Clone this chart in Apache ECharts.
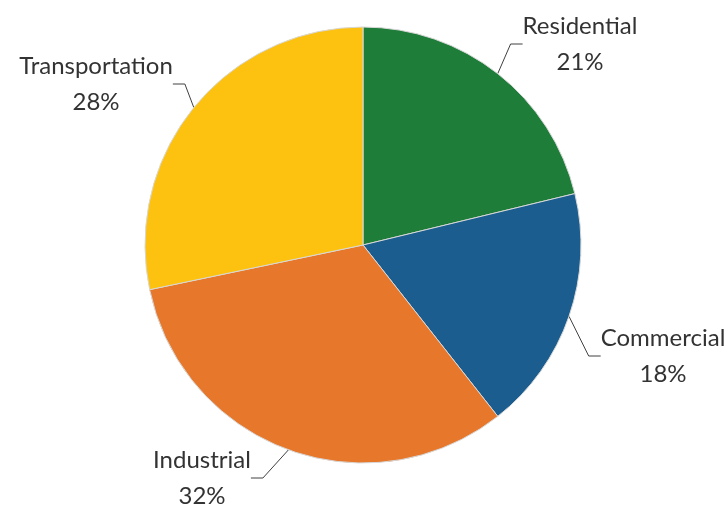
<!DOCTYPE html>
<html>
<head>
<meta charset="utf-8">
<script src="https://cdn.jsdelivr.net/npm/echarts@6/dist/echarts.min.js"></script>
<style>
	html, body { margin: 0; padding: 0; background: #ffffff; }
	#main { width: 728px; height: 505px; }
</style>
</head>
<body>
<div id="main"></div>
<script>
	// sectors, clockwise from 12 o'clock
	var sectors = ['Residential', 'Commercial', 'Industrial', 'Transportation'];
	var shares = [21, 18, 32, 28];
	var colours = ['#1f7d3a', '#1b5d8e', '#e6772b', '#fdc20f'];
	// where each label block sits (centre of the two text lines)
	var labelSpots = [[580, 44], [663, 356], [202, 478], [96, 84]];

	var myChart = echarts.init(document.getElementById('main'));

	var option = {
		backgroundColor: '#ffffff',
		animation: false,
		series: [
			{
				type: 'pie',
				center: [363, 245],
				radius: 218,
				startAngle: 90,
				clockwise: true,
				data: sectors.map(function (name, i) {
					return { name: name, value: shares[i], itemStyle: { color: colours[i] } };
				}),
				itemStyle: {
					borderColor: '#d8d8d8',
					borderWidth: 1
				},
				label: {
					show: true,
					position: 'outside',
					formatter: '{b}\n{c}%',
					fontFamily: 'Lato',
					fontSize: 24,
					lineHeight: 36,
					color: '#333333',
					align: 'center',
					overflow: 'none'
				},
				labelLine: {
					show: true,
					length: 12,
					length2: 12,
					lineStyle: { color: '#404040', width: 1 }
				},
				labelLayout: function (params) {
					var p = labelSpots[params.dataIndex];
					return { x: p[0], y: p[1], align: 'center', verticalAlign: 'middle' };
				}
			}
		]
	};

	myChart.setOption(option);
</script>
</body>
</html>
